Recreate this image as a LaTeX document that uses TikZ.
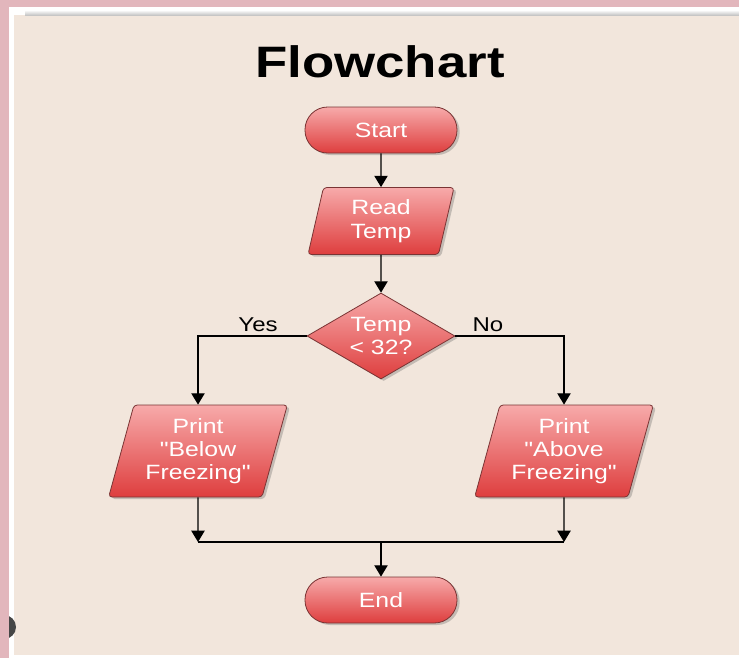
\documentclass[tikz,border=0pt]{standalone}
\usepackage{fontspec}
\setmainfont[FakeStretch=1.2, Ligatures=TeXOff]{Liberation Sans}
\usetikzlibrary{shapes.geometric,shadows,arrows.meta}
\definecolor{pinkbg}{HTML}{E2B6BC}
\definecolor{beige}{HTML}{F2E6DC}
\definecolor{boxtop}{HTML}{F7AAAA}
\definecolor{boxbot}{HTML}{DE3E3E}
\definecolor{boxline}{HTML}{7A3434}
\tikzset{
  box/.style={draw=boxline, line width=0.6pt, top color=boxtop, bottom color=boxbot,
    text=white, align=center, inner sep=0pt,
    font=\fontsize{15.5}{17.5}\selectfont,
    drop shadow={shadow xshift=2pt, shadow yshift=-1.5pt, opacity=0.3, fill=gray!70!black}},
  term/.style={box, rectangle, rounded corners=17pt, minimum width=114pt, minimum height=34.5pt},
  para/.style={box, trapezium, trapezium left angle=#1, trapezium right angle=180-#1,
    trapezium stretches body, rounded corners=2.5pt},
  dec/.style={box, diamond, aspect=1.72, minimum width=111pt, minimum height=64.5pt},
  arr/.style={draw=black, line width=1pt, -{Triangle[width=10pt,length=8.5pt]}},
  conn/.style={draw=black, line width=1pt},
  lbl/.style={font=\fontsize{15}{17}\selectfont, text=black, inner sep=0pt}
}
\begin{document}
\begin{tikzpicture}[x=0.75pt,y=-0.75pt]
\useasboundingbox (0,0) rectangle (739,658);
% background
\fill[pinkbg] (0,0) rectangle (739,658);
\fill[white] (9,7) rectangle (739,658);
\fill[beige] (14,15) rectangle (739,655);
\shade[top color=white, bottom color=gray!45] (25,10) rectangle (739,15);
\begin{scope}
  \clip (9,600) rectangle (16,650);
  \fill[gray!55!black] (4,627) circle (9pt);
\end{scope}
% title
\node[font=\fontsize{33}{40}\selectfont\bfseries] (title) at (380,62) {Flowchart};
% nodes
\node[term] (start) at (381,130) {Start};
\node[para=70, minimum width=109.5pt, minimum height=50.25pt] (read) at (381,221) {Read\\Temp};
\node[dec] (dec) at (381,336) {Temp\\< 32?};
\node[para=69, minimum width=134pt, minimum height=69pt] (below) at (198,451) {Print\\"Below\\Freezing"};
\node[para=69, minimum width=134pt, minimum height=69pt] (above) at (564,451) {Print\\"Above\\Freezing"};
\node[term] (end) at (381,600) {End};
\coordinate (jl) at (198,542);
\coordinate (jr) at (564,542);
\coordinate (jm) at (381,542);
% labels
\node[lbl] (yes) at (258,325) {Yes};
\node[lbl] (no) at (488,325) {No};
% connectors
\draw[arr] (start) -- (read);
\draw[arr] (read) -- (dec);
\draw[arr] (dec.west) -| (below.north);
\draw[arr] (dec.east) -| (above.north);
\draw[arr] (below.south) -- (jl);
\draw[arr] (above.south) -- (jr);
\draw[conn] (jl) -- (jr);
\draw[arr] (jm) -- (end);
\end{tikzpicture}
\end{document}
